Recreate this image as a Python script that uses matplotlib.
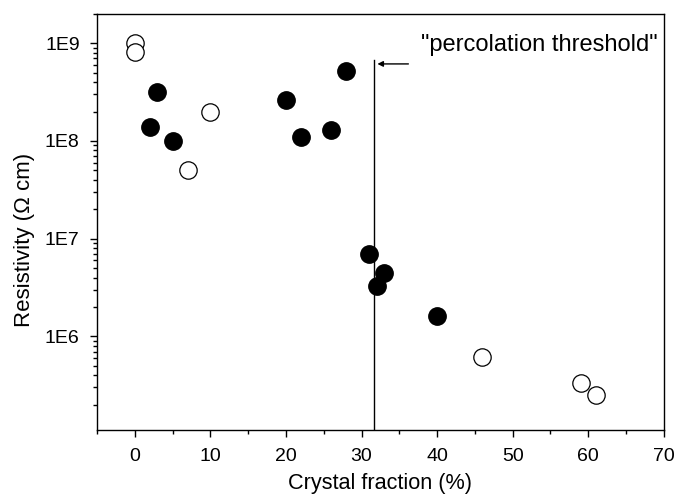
import numpy as np
import matplotlib
matplotlib.use('Agg')
import matplotlib.pyplot as plt
from matplotlib.ticker import LogLocator, FixedLocator, MultipleLocator, FuncFormatter

# --- DATA ---
# filled circles
filled_x = [2, 3, 5, 20, 22, 26, 28, 31, 32, 33, 40]
filled_y = [1.39e8, 3.2e8, 1.0e8, 2.6e8, 1.1e8, 1.3e8, 5.2e8, 7.0e6, 3.3e6, 4.5e6, 1.6e6]
# open circles
open_x = [0, 0, 7, 10, 46, 59, 61]
open_y = [1.0e9, 8.1e8, 5.0e7, 2.0e8, 6.1e5, 3.35e5, 2.5e5]

threshold_x = 31.6
threshold_top = 6.8e8
label_text = '"percolation threshold"'

plt.rcParams['font.family'] = ['Liberation Sans', 'DejaVu Sans']

fig = plt.figure(figsize=(6.76, 4.96), dpi=100)
ax = fig.add_axes([0.1435, 0.133, 0.8385, 0.839])

ax.plot(filled_x, filled_y, 'o', ms=12.5, mfc='black', mec='black', mew=1)
ax.plot(open_x, open_y, 'o', ms=12.5, mfc='white', mec='black', mew=0.9)

ax.set_yscale('log')
ax.set_xlim(-5, 70)
ax.set_ylim(1.1e5, 2.0e9)

# threshold line + arrow + label
ax.plot([threshold_x, threshold_x], [1.1e5, threshold_top], color='black', lw=1)
ax.annotate('', xy=(32.1, 6.15e8), xytext=(36.2, 6.15e8),
            arrowprops=dict(arrowstyle='-|>', color='black', lw=1,
                            mutation_scale=8, shrinkA=0, shrinkB=0))
ax.text(37.9, 9.6e8, label_text, fontsize=17, va='center', ha='left')

ax.xaxis.set_major_locator(MultipleLocator(10))
ax.xaxis.set_minor_locator(MultipleLocator(5))
ax.yaxis.set_major_locator(FixedLocator([1e6, 1e7, 1e8, 1e9]))
ax.yaxis.set_minor_locator(LogLocator(base=10, subs=np.arange(2, 10)))
ax.yaxis.set_major_formatter(FuncFormatter(lambda v, p: '1E%d' % round(np.log10(v))))
ax.yaxis.set_minor_formatter(FuncFormatter(lambda v, p: ''))

ax.tick_params(which='major', direction='out', length=5, width=1, labelsize=14, colors='black')
ax.tick_params(which='minor', direction='out', length=3, width=1)
ax.tick_params(axis='x', which='major', pad=8)
ax.tick_params(axis='y', which='major', pad=7.5)
ax.tick_params(axis='x', which='both', top=False)
ax.tick_params(axis='y', which='both', right=False)
for s in ax.spines.values():
    s.set_linewidth(1)

ax.set_xlabel('Crystal fraction (%)', fontsize=15.6, labelpad=6)
ax.set_ylabel('Resistivity (\u03a9 cm)', fontsize=16, labelpad=7, y=0.457)

fig.savefig('out.png', dpi=100)
